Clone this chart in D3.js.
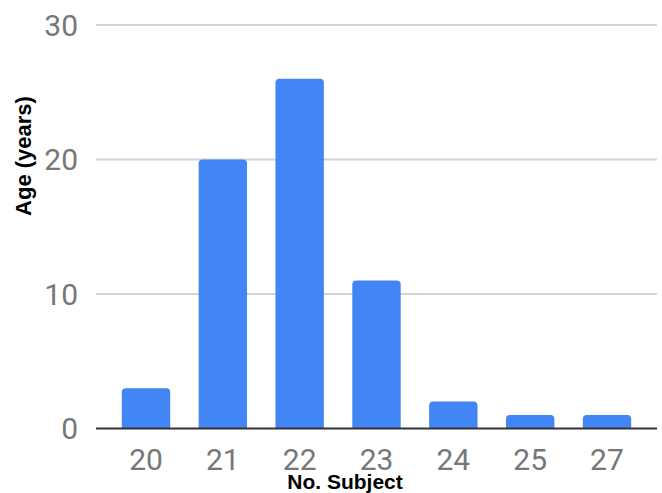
<!DOCTYPE html>
<html>
<head>
<meta charset="utf-8">
<script src="https://cdn.jsdelivr.net/npm/d3@7"></script>
<style>
  html, body { margin: 0; padding: 0; background: #fff; }
  svg { display: block; }
</style>
</head>
<body>
<svg id="chart" width="662" height="493"></svg>
<script>
// Subjects per age
const ages = ["20", "21", "22", "23", "24", "25", "27"];
const counts = [3, 20, 26, 11, 2, 1, 1];
const yTicks = [0, 10, 20, 30];

const svg = d3.select("#chart");
const plot = { left: 96, right: 657, top: 25, bottom: 428.5 };

const x = d3.scaleBand()
  .domain(ages)
  .range([107.6, 645.4])
  .paddingInner(0.37)
  .paddingOuter(0.185);

const y = d3.scaleLinear()
  .domain([0, 30])
  .range([plot.bottom, plot.top]);

// horizontal gridlines
svg.append("g")
  .selectAll("line")
  .data(yTicks.filter(d => d !== 0))
  .join("line")
  .attr("x1", plot.left)
  .attr("x2", plot.right)
  .attr("y1", d => y(d))
  .attr("y2", d => y(d))
  .attr("stroke", "#d4d4d4")
  .attr("stroke-width", 2);

// y tick labels
svg.append("g")
  .selectAll("text")
  .data(yTicks)
  .join("text")
  .attr("x", 78)
  .attr("y", d => y(d))
  .attr("dy", "0.36em")
  .attr("text-anchor", "end")
  .attr("font-family", "Roboto, sans-serif")
  .attr("font-size", 30)
  .attr("fill", "#777")
  .text(d => d);

// bars with rounded top corners
const r = 4;
function barPath(x0, w, yTop, yBase) {
  const h = yBase - yTop;
  const rr = Math.min(r, h / 2, w / 2);
  return `M${x0},${yBase}V${yTop + rr}Q${x0},${yTop} ${x0 + rr},${yTop}` +
         `H${x0 + w - rr}Q${x0 + w},${yTop} ${x0 + w},${yTop + rr}V${yBase}Z`;
}

svg.append("g")
  .selectAll("path")
  .data(ages.map((a, i) => ({ age: a, value: counts[i] })))
  .join("path")
  .attr("d", d => barPath(x(d.age), x.bandwidth(), y(d.value), y(0)))
  .attr("fill", "#4285f4");

// baseline
svg.append("line")
  .attr("x1", plot.left)
  .attr("x2", plot.right)
  .attr("y1", y(0))
  .attr("y2", y(0))
  .attr("stroke", "#333")
  .attr("stroke-width", 2);

// x tick labels
svg.append("g")
  .selectAll("text")
  .data(ages)
  .join("text")
  .attr("x", d => x(d) + x.bandwidth() / 2)
  .attr("y", 470)
  .attr("text-anchor", "middle")
  .attr("font-family", "Roboto, sans-serif")
  .attr("font-size", 30)
  .attr("fill", "#777")
  .text(d => d);

// axis titles
svg.append("text")
  .attr("x", 345)
  .attr("y", 489)
  .attr("text-anchor", "middle")
  .attr("font-family", "'Liberation Sans', Arial, sans-serif")
  .attr("font-weight", "bold")
  .attr("font-size", 21)
  .attr("fill", "#000")
  .text("No. Subject");

svg.append("text")
  .attr("transform", "translate(31,156) rotate(-90)")
  .attr("text-anchor", "middle")
  .attr("font-family", "'Liberation Sans', Arial, sans-serif")
  .attr("font-weight", "bold")
  .attr("font-size", 22)
  .attr("fill", "#000")
  .text("Age (years)");
</script>
</body>
</html>
